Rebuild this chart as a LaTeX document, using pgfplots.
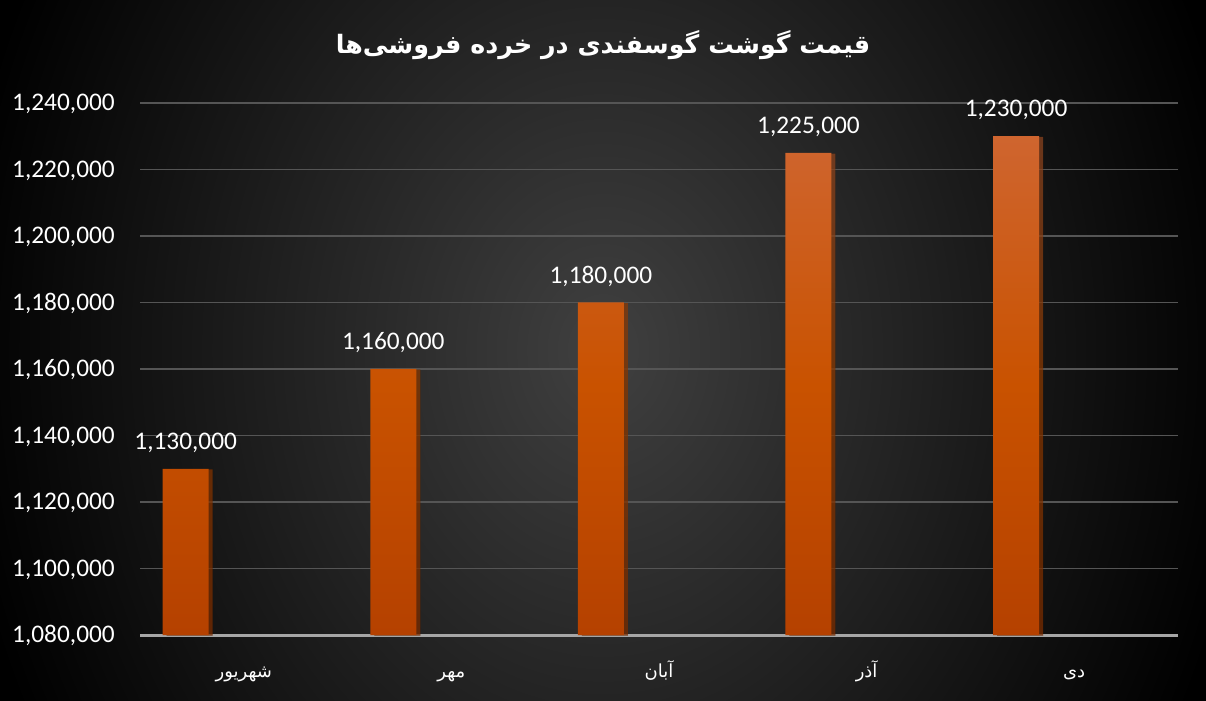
\documentclass[border=0pt]{standalone}
\usepackage{pgfplots}
\pgfplotsset{compat=1.18}
\usetikzlibrary{shadows}
\usepackage{fontspec}
\setmainfont{Carlito}
\newfontfamily\arabicfont[Script=Arabic]{DejaVu Sans}
\TeXXeTstate=1
\definecolor{bgc}{HTML}{404040}
\definecolor{gridc}{HTML}{555555}
\definecolor{axc}{HTML}{A6A6A6}
\definecolor{bartop}{HTML}{CF652F}
\definecolor{barmid}{HTML}{C95200}
\definecolor{barbot}{HTML}{B54100}
\begin{document}
\begin{tikzpicture}[x=0.75pt,y=0.75pt]
\useasboundingbox (0,0) rectangle (1206,700);
\begin{scope}
\clip (0,0) rectangle (1206,700);
\shade[inner color=bgc, outer color=black] (-47,-450) rectangle (1253,1150);
\end{scope}
\node[text=white, font=\arabicfont\bfseries\fontsize{19}{23}\selectfont] at (603,655) {\beginR قیمت گوشت گوسفندی در خرده فروشی‌ها\endR};
\begin{axis}[
  at={(105pt,48.75pt)}, anchor=south west,
  scale only axis, width=778.5pt, height=399pt,
  xmin=-0.5, xmax=4.5, ymin=1080000, ymax=1240000,
  ybar, bar width=0.2216,
  ytick={1080000,1100000,1120000,1140000,1160000,1180000,1200000,1220000,1240000},
  xtick={0,1,2,3,4},
  xticklabels={{\beginR شهریور\endR},{\beginR مهر\endR},{\beginR آبان\endR},{\beginR آذر\endR},{\beginR دی\endR}},
  scaled y ticks=false,
  /pgf/number format/fixed,
  /pgf/number format/precision=0,
  /pgf/number format/1000 sep={,},
  /pgf/number format/assume math mode=true,
  ymajorgrids, grid style={gridc, line width=1pt},
  axis x line*=bottom, axis y line*=left,
  y axis line style={draw=none},
  x axis line style={axc, line width=2.25pt, -},
  major tick length=0pt, tick style={draw=none},
  yticklabel style={anchor=base east, inner sep=0pt, xshift=-18.75pt, yshift=-5.9pt, text=white, font=\fontsize{19}{21}\selectfont},
  xticklabel style={anchor=base, inner sep=0pt, yshift=-32pt, text=white, font=\arabicfont\fontsize{13.5}{15}\selectfont},
  nodes near coords,
  every node near coord/.append style={anchor=base, inner sep=0pt, yshift=14.5pt, text=white, font=\fontsize{19}{21}\selectfont},
  clip=false,
]
\addplot[draw=none, top color=bartop, bottom color=barbot, middle color=barmid,
  drop shadow={shadow xshift=3pt, shadow yshift=-0.5pt, opacity=0.5, fill=black}] coordinates {
  (-0.28,1130000) (0.72,1160000) (1.72,1180000) (2.72,1225000) (3.72,1230000)
};
\end{axis}
\end{tikzpicture}
\end{document}
